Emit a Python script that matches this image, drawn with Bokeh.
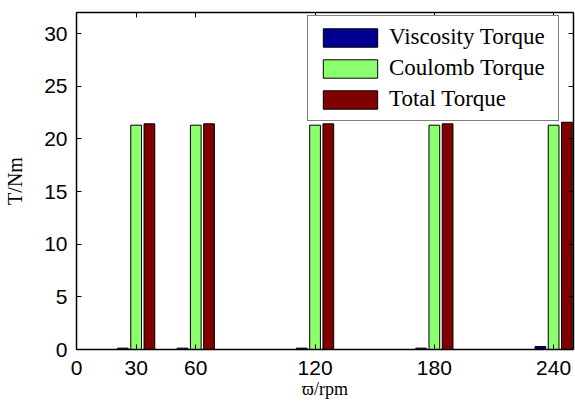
from bokeh.plotting import figure
from bokeh.models import Range1d, FixedTicker, LinearAxis, ColumnDataSource
from bokeh.transform import dodge
from bokeh.embed import file_html
from bokeh.resources import INLINE

# data
rpm = [30, 60, 120, 180, 240]
viscosity = [0.13, 0.13, 0.13, 0.13, 0.28]
coulomb = [21.3, 21.3, 21.3, 21.3, 21.3]
total = [21.43, 21.43, 21.43, 21.43, 21.58]
series_names = ["Viscosity Torque", "Coulomb Torque", "Total Torque"]
x_ticks = [0, 30, 60, 120, 180, 240]
y_ticks = [0, 5, 10, 15, 20, 25, 30]

colors = ["#000090", "#8CFF6E", "#800000"]

src = ColumnDataSource(dict(rpm=rpm, viscosity=viscosity, coulomb=coulomb, total=total))

p = figure(width=575, height=401, x_range=Range1d(0, 250), y_range=Range1d(0, 32),
           output_backend="svg", toolbar_location=None,
           min_border_left=76, min_border_right=2, min_border_top=12, min_border_bottom=51)
p.grid.visible = False
p.outline_line_color = None
p.background_fill_color = "white"
p.border_fill_color = "white"

offsets = [-6.67, 0, 6.67]
fields = ["viscosity", "coulomb", "total"]
for f, off, c, name in zip(fields, offsets, colors, series_names):
    p.vbar(x=dodge("rpm", off, range=p.x_range), top=f, width=5.4, bottom=0, source=src,
           fill_color=c, line_color="black", line_width=1, legend_label=name)

tick_font = "Liberation Sans"
for ax in (p.xaxis[0], p.yaxis[0]):
    ax.major_tick_in = 5
    ax.major_tick_out = 0
    ax.minor_tick_line_color = None
    ax.axis_line_width = 1.5
    ax.axis_line_color = "black"
    ax.major_tick_line_color = "black"
    ax.major_label_text_font = tick_font
    ax.major_label_text_font_size = "21px"
    ax.major_label_text_color = "black"
    ax.axis_label_text_font = "Liberation Serif"
    ax.axis_label_text_font_style = "normal"
    ax.axis_label_text_color = "black"

p.xaxis[0].ticker = FixedTicker(ticks=x_ticks)
p.yaxis[0].ticker = FixedTicker(ticks=y_ticks)
p.xaxis[0].axis_label = "ϖ/rpm"
p.yaxis[0].axis_label = "T/Nm"
p.xaxis[0].axis_label_text_font_size = "18px"
p.yaxis[0].axis_label_text_font_size = "20px"
p.xaxis[0].major_label_standoff = 11
p.yaxis[0].major_label_standoff = 9
p.xaxis[0].axis_label_standoff = 1
p.yaxis[0].axis_label_standoff = 15

empty_x = {t: "" for t in x_ticks}
empty_y = {t: "" for t in y_ticks}
top_ax = LinearAxis(ticker=FixedTicker(ticks=x_ticks), major_tick_in=5, major_tick_out=0,
                    minor_tick_line_color=None, major_label_overrides=empty_x,
                    major_label_text_font_size="8px",
                    major_label_standoff=0, axis_line_width=1.5)
right_ax = LinearAxis(ticker=FixedTicker(ticks=y_ticks), major_tick_in=5,
                      major_tick_out=0, minor_tick_line_color=None,
                      major_label_overrides=empty_y,
                      major_label_text_font_size="8px", major_label_standoff=0,
                      axis_line_width=1.5)
p.add_layout(top_ax, "above")
p.add_layout(right_ax, "right")

lg = p.legend[0]
lg.location = (231, 228)
lg.margin = 0
lg.padding = 8
lg.spacing = 5
lg.glyph_width = 68
lg.glyph_height = 23
lg.label_standoff = 5
lg.label_width = 161
lg.label_text_font = "Liberation Serif"
lg.label_text_font_size = "23px"
lg.label_text_color = "black"
lg.border_line_color = "black"
lg.border_line_width = 1
lg.background_fill_alpha = 1

open("out.html", "w").write(file_html(p, INLINE))
